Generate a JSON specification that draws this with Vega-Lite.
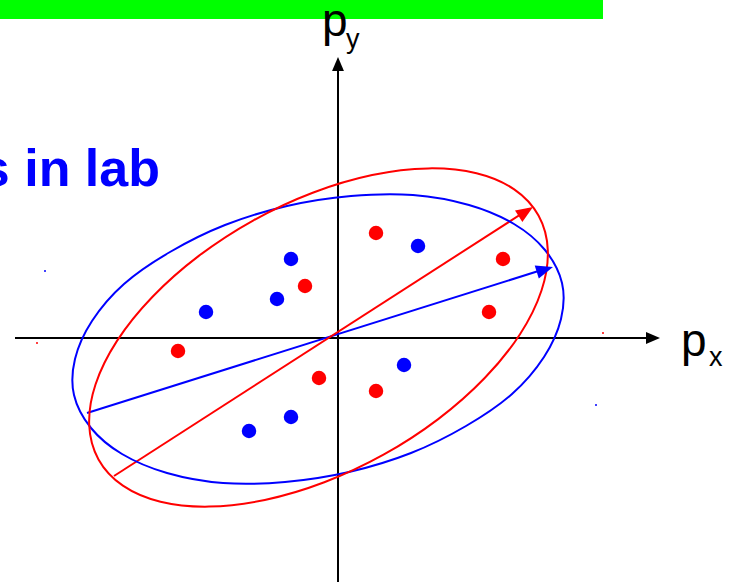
{
  "$schema": "https://vega.github.io/schema/vega-lite/v6.json",
  "autosize": {"type": "none"},
  "width": 730,
  "height": 585,
  "padding": 0,
  "background": "white",
  "config": {"view": {"stroke": null}},
  "datasets": {
    "bar": [{"x1": 0, "x2": 603, "y1": 0, "y2": 19}],
    "ellipses": [
      {"e": "blue", "o": 0, "x": 562, "y": 283},
      {"e": "blue", "o": 1, "x": 561, "y": 319},
      {"e": "blue", "o": 2, "x": 544, "y": 357},
      {"e": "blue", "o": 3, "x": 512, "y": 394},
      {"e": "blue", "o": 4, "x": 466, "y": 426},
      {"e": "blue", "o": 5, "x": 411, "y": 453},
      {"e": "blue", "o": 6, "x": 349, "y": 472},
      {"e": "blue", "o": 7, "x": 285, "y": 482},
      {"e": "blue", "o": 8, "x": 223, "y": 483},
      {"e": "blue", "o": 9, "x": 167, "y": 473},
      {"e": "blue", "o": 10, "x": 122, "y": 454},
      {"e": "blue", "o": 11, "x": 91, "y": 428},
      {"e": "blue", "o": 12, "x": 74, "y": 395},
      {"e": "blue", "o": 13, "x": 75, "y": 359},
      {"e": "blue", "o": 14, "x": 92, "y": 321},
      {"e": "blue", "o": 15, "x": 124, "y": 284},
      {"e": "blue", "o": 16, "x": 170, "y": 252},
      {"e": "blue", "o": 17, "x": 225, "y": 225},
      {"e": "blue", "o": 18, "x": 287, "y": 206},
      {"e": "blue", "o": 19, "x": 351, "y": 196},
      {"e": "blue", "o": 20, "x": 413, "y": 195},
      {"e": "blue", "o": 21, "x": 469, "y": 205},
      {"e": "blue", "o": 22, "x": 514, "y": 224},
      {"e": "blue", "o": 23, "x": 545, "y": 250},
      {"e": "red", "o": 0, "x": 538.5, "y": 215.6},
      {"e": "red", "o": 1, "x": 547.8, "y": 250.1},
      {"e": "red", "o": 2, "x": 541.5, "y": 290.5},
      {"e": "red", "o": 3, "x": 520.0, "y": 334.2},
      {"e": "red", "o": 4, "x": 484.7, "y": 378.0},
      {"e": "red", "o": 5, "x": 438.2, "y": 419.1},
      {"e": "red", "o": 6, "x": 383.5, "y": 454.7},
      {"e": "red", "o": 7, "x": 324.3, "y": 482.3},
      {"e": "red", "o": 8, "x": 264.8, "y": 500.0},
      {"e": "red", "o": 9, "x": 208.9, "y": 506.6},
      {"e": "red", "o": 10, "x": 160.5, "y": 501.7},
      {"e": "red", "o": 11, "x": 122.9, "y": 485.6},
      {"e": "red", "o": 12, "x": 98.5, "y": 459.4},
      {"e": "red", "o": 13, "x": 89.2, "y": 424.9},
      {"e": "red", "o": 14, "x": 95.5, "y": 384.5},
      {"e": "red", "o": 15, "x": 117.0, "y": 340.9},
      {"e": "red", "o": 16, "x": 152.3, "y": 297.0},
      {"e": "red", "o": 17, "x": 198.8, "y": 255.9},
      {"e": "red", "o": 18, "x": 253.5, "y": 220.3},
      {"e": "red", "o": 19, "x": 312.7, "y": 192.7},
      {"e": "red", "o": 20, "x": 372.2, "y": 175.0},
      {"e": "red", "o": 21, "x": 428.1, "y": 168.4},
      {"e": "red", "o": 22, "x": 476.5, "y": 173.3},
      {"e": "red", "o": 23, "x": 514.2, "y": 189.4}
    ],
    "lines": [
      {"id": "hx", "c": "black", "x": 15, "y": 338},
      {"id": "hx", "c": "black", "x": 652, "y": 338},
      {"id": "vy", "c": "black", "x": 338, "y": 582},
      {"id": "vy", "c": "black", "x": 338, "y": 64},
      {"id": "ab", "c": "blue", "x": 87, "y": 413},
      {"id": "ab", "c": "blue", "x": 548, "y": 268},
      {"id": "ar", "c": "red", "x": 114, "y": 476},
      {"id": "ar", "c": "red", "x": 529, "y": 209}
    ],
    "heads": [
      {"c": "black", "k": "axis", "x": 660, "y": 338, "a": 0},
      {"c": "black", "k": "axis", "x": 338, "y": 57, "a": 270},
      {"c": "blue", "k": "vec", "x": 553, "y": 267, "a": 342.6},
      {"c": "red", "k": "vec", "x": 533, "y": 207, "a": 327.3}
    ],
    "dots": [
      {"c": "red", "k": "dot", "x": 376, "y": 233},
      {"c": "red", "k": "dot", "x": 305, "y": 286},
      {"c": "red", "k": "dot", "x": 503, "y": 259},
      {"c": "red", "k": "dot", "x": 489, "y": 312},
      {"c": "red", "k": "dot", "x": 178, "y": 351},
      {"c": "red", "k": "dot", "x": 319, "y": 378},
      {"c": "red", "k": "dot", "x": 376, "y": 391},
      {"c": "blue", "k": "dot", "x": 291, "y": 259},
      {"c": "blue", "k": "dot", "x": 418, "y": 246},
      {"c": "blue", "k": "dot", "x": 277, "y": 299},
      {"c": "blue", "k": "dot", "x": 206, "y": 312},
      {"c": "blue", "k": "dot", "x": 404, "y": 365},
      {"c": "blue", "k": "dot", "x": 291, "y": 417},
      {"c": "blue", "k": "dot", "x": 249, "y": 431},
      {"c": "blue", "k": "speck", "x": 45, "y": 271},
      {"c": "red", "k": "speck", "x": 37, "y": 343},
      {"c": "red", "k": "speck", "x": 603, "y": 333},
      {"c": "blue", "k": "speck", "x": 596, "y": 405}
    ],
    "labels": [
      {"t": "p", "x": 322, "y": 36},
      {"t": "p", "x": 681, "y": 356}
    ],
    "subs": [
      {"t": "y", "x": 346, "y": 48},
      {"t": "x", "x": 709, "y": 366}
    ],
    "title": [
      {"t": "s in lab", "x": 160, "y": 186}
    ]
  },
  "layer": [
    {
      "data": {"name": "bar"},
      "mark": {"type": "rect", "color": "#00ff00"},
      "encoding": {
        "x": {"field": "x1", "type": "quantitative", "scale": {"domain": [0, 730], "nice": false, "zero": false}, "axis": null},
        "x2": {"field": "x2"},
        "y": {"field": "y1", "type": "quantitative", "scale": {"domain": [0, 585], "nice": false, "zero": false, "reverse": true}, "axis": null},
        "y2": {"field": "y2"}
      }
    },
    {
      "data": {"name": "lines"},
      "mark": {"type": "line", "strokeWidth": 2},
      "encoding": {
        "x": {"field": "x", "type": "quantitative", "axis": null},
        "y": {"field": "y", "type": "quantitative", "axis": null},
        "detail": {"field": "id"},
        "color": {"field": "c", "type": "nominal", "scale": {"domain": ["red", "blue", "black"], "range": ["#ff0000", "#0000ff", "#000000"]}, "legend": null}
      }
    },
    {
      "data": {"name": "ellipses"},
      "mark": {"type": "line", "strokeWidth": 2, "interpolate": "cardinal-closed"},
      "encoding": {
        "x": {"field": "x", "type": "quantitative", "axis": null},
        "y": {"field": "y", "type": "quantitative", "axis": null},
        "order": {"field": "o", "type": "quantitative"},
        "color": {"field": "e", "type": "nominal", "legend": null}
      }
    },
    {
      "data": {"name": "heads"},
      "transform": [{"filter": "datum.k === 'axis'"}],
      "mark": {"type": "point", "filled": true, "opacity": 1, "shape": "M0,0L-2,-0.85L-2,0.85Z", "strokeWidth": 0, "size": 196},
      "encoding": {
        "x": {"field": "x", "type": "quantitative", "axis": null},
        "y": {"field": "y", "type": "quantitative", "axis": null},
        "angle": {"field": "a", "type": "quantitative", "scale": null},
        "color": {"field": "c", "type": "nominal", "legend": null}
      }
    },
    {
      "data": {"name": "heads"},
      "transform": [{"filter": "datum.k === 'vec'"}],
      "mark": {"type": "point", "filled": true, "opacity": 1, "shape": "M0,0L-2,-0.8L-2,0.8Z", "strokeWidth": 0, "size": 289},
      "encoding": {
        "x": {"field": "x", "type": "quantitative", "axis": null},
        "y": {"field": "y", "type": "quantitative", "axis": null},
        "angle": {"field": "a", "type": "quantitative", "scale": null},
        "color": {"field": "c", "type": "nominal", "legend": null}
      }
    },
    {
      "data": {"name": "dots"},
      "transform": [{"filter": "datum.k === 'dot'"}],
      "mark": {"type": "point", "filled": true, "opacity": 1, "shape": "circle", "strokeWidth": 0, "size": 210},
      "encoding": {
        "x": {"field": "x", "type": "quantitative", "axis": null},
        "y": {"field": "y", "type": "quantitative", "axis": null},
        "color": {"field": "c", "type": "nominal", "legend": null}
      }
    },
    {
      "data": {"name": "dots"},
      "transform": [{"filter": "datum.k === 'speck'"}],
      "mark": {"type": "point", "filled": true, "opacity": 1, "shape": "circle", "strokeWidth": 0, "size": 4},
      "encoding": {
        "x": {"field": "x", "type": "quantitative", "axis": null},
        "y": {"field": "y", "type": "quantitative", "axis": null},
        "color": {"field": "c", "type": "nominal", "legend": null}
      }
    },
    {
      "data": {"name": "labels"},
      "mark": {"type": "text", "font": "Liberation Sans", "fontSize": 46, "align": "left", "baseline": "alphabetic", "color": "black"},
      "encoding": {
        "x": {"field": "x", "type": "quantitative", "axis": null},
        "y": {"field": "y", "type": "quantitative", "axis": null},
        "text": {"field": "t"}
      }
    },
    {
      "data": {"name": "subs"},
      "mark": {"type": "text", "font": "Liberation Sans", "fontSize": 27, "align": "left", "baseline": "alphabetic", "color": "black"},
      "encoding": {
        "x": {"field": "x", "type": "quantitative", "axis": null},
        "y": {"field": "y", "type": "quantitative", "axis": null},
        "text": {"field": "t"}
      }
    },
    {
      "data": {"name": "title"},
      "mark": {"type": "text", "font": "Liberation Sans", "fontSize": 52, "fontWeight": "bold", "align": "right", "baseline": "alphabetic", "color": "#0000ff"},
      "encoding": {
        "x": {"field": "x", "type": "quantitative", "axis": null},
        "y": {"field": "y", "type": "quantitative", "axis": null},
        "text": {"field": "t"}
      }
    }
  ]
}
